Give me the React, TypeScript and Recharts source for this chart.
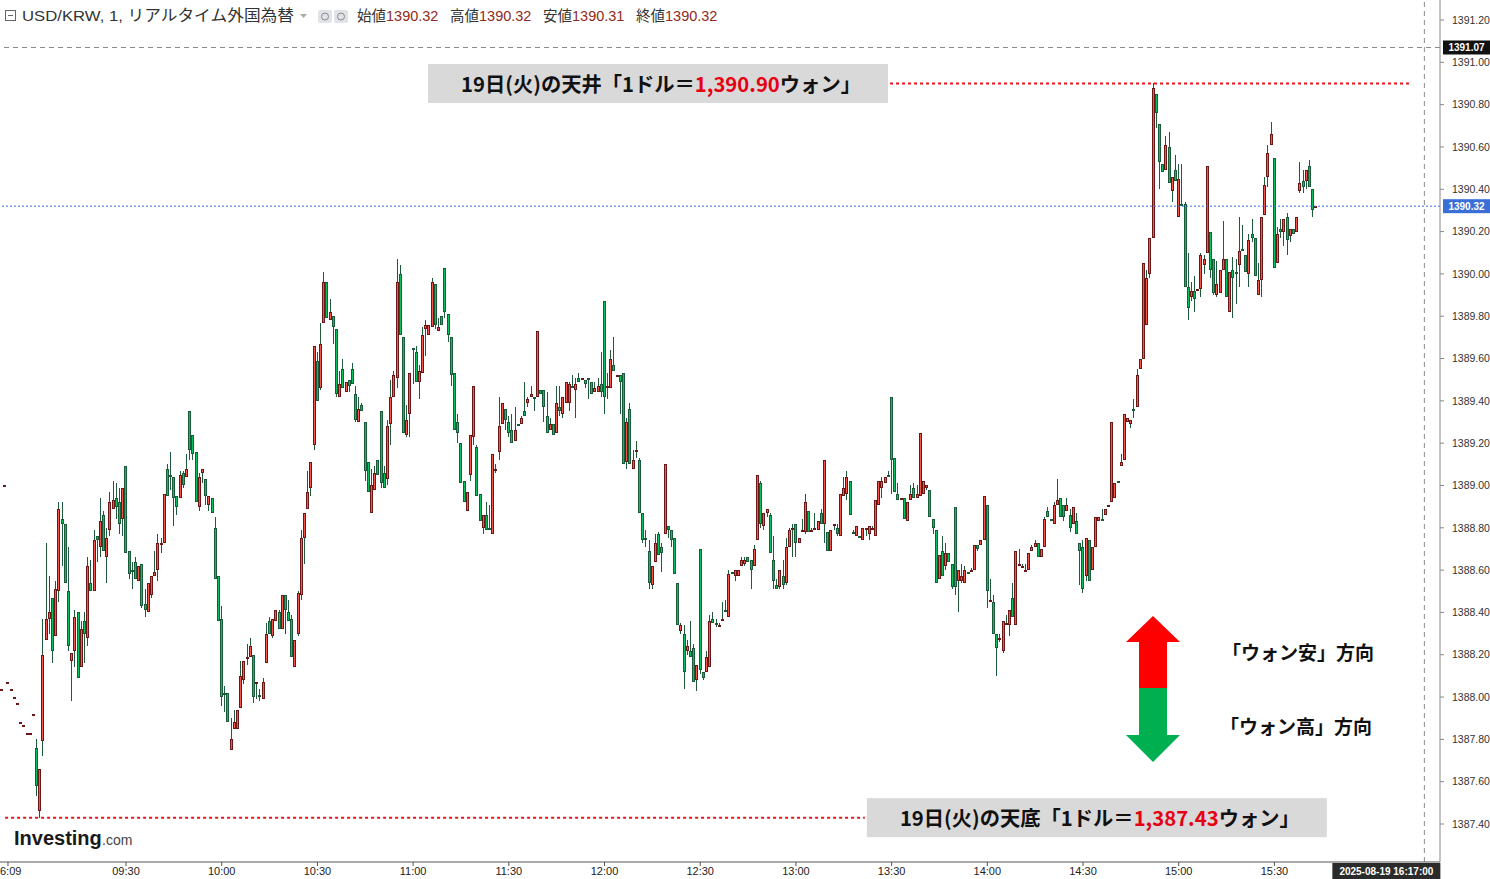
import React from 'react';
import { ComposedChart, Bar, XAxis, YAxis, ReferenceLine } from 'recharts';

// USD/KRW 1-minute candles, minute index from 09:00 (negative = previous session ticks)
const firstMinute = -9;

const open = [
  1388.04, 1389.00, 1388.07, 1388.04, 1388.00, 1387.97, 1387.88, 1387.87, 1387.83, 1387.83,
  1387.92, 1387.76, 1387.46, 1387.79, 1388.27, 1388.37, 1388.47, 1388.29, 1388.50, 1388.84,
  1388.82, 1388.50, 1388.17, 1388.22, 1388.40, 1388.14, 1388.36, 1388.28, 1388.54, 1388.50,
  1388.76, 1388.71, 1388.86, 1388.66, 1388.79, 1388.89, 1388.94, 1388.92, 1388.84, 1389.09,
  1388.69, 1388.60, 1388.64, 1388.55, 1388.63, 1388.44, 1388.40, 1388.48, 1388.57, 1388.60,
  1388.72, 1388.73, 1389.08, 1389.05, 1389.04, 1388.95, 1388.94, 1389.06, 1389.04, 1389.35,
  1389.24, 1389.16, 1388.90, 1389.06, 1389.03, 1388.91, 1388.94, 1388.80, 1388.57, 1388.37,
  1388.02, 1388.02, 1387.75, 1387.85, 1387.85, 1387.95, 1388.08, 1388.18, 1388.19, 1388.20,
  1388.07, 1388.01, 1387.99, 1388.16, 1388.36, 1388.29, 1388.36, 1388.40, 1388.32, 1388.48,
  1388.40, 1388.37, 1388.14, 1388.30, 1388.48, 1388.75, 1388.89, 1388.99, 1389.19, 1389.59,
  1389.46, 1389.77, 1389.96, 1389.78, 1389.80, 1389.74, 1389.42, 1389.55, 1389.44, 1389.50,
  1389.55, 1389.43, 1389.30, 1389.38, 1389.30, 1389.11, 1388.87, 1388.98, 1389.12, 1389.35,
  1389.06, 1389.03, 1389.29, 1389.42, 1389.51, 1390.00, 1389.70, 1389.24, 1389.34, 1389.65,
  1389.63, 1389.49, 1389.53, 1389.74, 1389.71, 1389.75, 1389.95, 1389.73, 1389.80, 1390.03,
  1389.81, 1389.70, 1389.53, 1389.30, 1389.20, 1389.02, 1388.88, 1389.05, 1389.23, 1389.18,
  1388.96, 1388.80, 1388.86, 1388.80, 1388.77, 1389.07, 1389.16, 1389.29, 1389.36, 1389.30,
  1389.26, 1389.21, 1389.29, 1389.29, 1389.35, 1389.39, 1389.42, 1389.42, 1389.42, 1389.45,
  1389.45, 1389.33, 1389.26, 1389.29, 1389.25, 1389.37, 1389.34, 1389.39, 1389.39, 1389.47,
  1389.45, 1389.51, 1389.50, 1389.50, 1389.51, 1389.49, 1389.44, 1389.44, 1389.48, 1389.87,
  1389.46, 1389.46, 1389.57, 1389.52, 1389.52, 1389.53, 1389.11, 1389.36, 1389.08, 1389.16,
  1389.12, 1388.87, 1388.75, 1388.69, 1388.53, 1388.64, 1388.77, 1388.71, 1388.77, 1388.81,
  1388.79, 1388.75, 1388.54, 1388.31, 1388.30, 1388.22, 1388.22, 1388.23, 1388.08, 1388.70,
  1388.12, 1388.12, 1388.14, 1388.37, 1388.35, 1388.33, 1388.36, 1388.41, 1388.38, 1388.59,
  1388.57, 1388.57, 1388.62, 1388.63, 1388.66, 1388.65, 1388.62, 1388.74, 1389.01, 1388.81,
  1388.87, 1388.86, 1388.65, 1388.53, 1388.52, 1388.57, 1388.54, 1388.71, 1388.80, 1388.82,
  1388.73, 1388.79, 1388.78, 1388.88, 1388.79, 1388.80, 1388.79, 1388.87, 1388.82, 1388.78,
  1388.69, 1388.81, 1388.80, 1388.76, 1388.95, 1388.96, 1389.02, 1388.78, 1388.76, 1388.76,
  1388.74, 1388.80, 1388.77, 1388.79, 1388.76, 1388.91, 1388.99, 1389.01, 1389.05, 1389.42,
  1389.13, 1388.96, 1388.94, 1388.94, 1388.83, 1388.93, 1388.99, 1388.94, 1388.95, 1388.96,
  1388.99, 1388.98, 1388.84, 1388.79, 1388.56, 1388.69, 1388.62, 1388.68, 1388.63, 1388.90,
  1388.55, 1388.55, 1388.54, 1388.59, 1388.59, 1388.60, 1388.72, 1388.72, 1388.74, 1388.91,
  1388.46, 1388.45, 1388.30, 1388.27, 1388.22, 1388.35, 1388.34, 1388.47, 1388.34, 1388.62,
  1388.62, 1388.60, 1388.60, 1388.69, 1388.71, 1388.73, 1388.66, 1388.71, 1388.88, 1388.84,
  1388.82, 1388.91, 1388.94, 1388.91, 1388.88, 1388.86, 1388.82, 1388.83, 1388.73, 1388.71,
  1388.57, 1388.74, 1388.60, 1388.71, 1388.83, 1388.84, 1388.86, 1388.90, 1388.92, 1388.94,
  1389.02, 1389.09, 1389.12, 1389.30, 1389.29, 1389.36, 1389.37, 1389.55, 1389.60, 1389.76,
  1390.00, 1390.17, 1390.85, 1390.71, 1390.52, 1390.49, 1390.60, 1390.39, 1390.49, 1390.27,
  1390.33, 1390.33, 1389.94, 1389.89, 1389.92, 1389.92, 1389.93, 1390.04, 1390.10, 1390.20,
  1390.07, 1389.90, 1389.91, 1390.02, 1390.07, 1389.82, 1390.02, 1390.01, 1390.04, 1390.12,
  1390.09, 1390.00, 1390.19, 1390.17, 1389.90, 1389.97, 1390.28, 1390.46, 1390.61, 1390.55,
  1390.05, 1390.21, 1390.20, 1390.27, 1390.18, 1390.21, 1390.20, 1390.39, 1390.44, 1390.44,
  1390.51, 1390.40, 1390.32,
];

const high = [
  1388.04, 1389.00, 1388.07, 1388.04, 1388.00, 1387.97, 1387.88, 1387.87, 1387.83, 1387.83,
  1387.92, 1387.80, 1387.66, 1388.37, 1388.73, 1388.57, 1388.47, 1388.55, 1388.92, 1388.92,
  1388.82, 1388.71, 1388.21, 1388.41, 1388.40, 1388.36, 1388.40, 1388.66, 1388.65, 1388.79,
  1388.76, 1388.94, 1388.88, 1388.80, 1388.97, 1389.02, 1389.01, 1388.99, 1388.99, 1389.09,
  1388.69, 1388.64, 1388.66, 1388.62, 1388.63, 1388.51, 1388.54, 1388.57, 1388.69, 1388.77,
  1388.75, 1388.96, 1389.10, 1389.16, 1389.04, 1388.95, 1389.07, 1389.07, 1389.15, 1389.35,
  1389.24, 1389.16, 1389.06, 1389.08, 1389.03, 1388.95, 1388.94, 1388.85, 1388.57, 1388.43,
  1388.05, 1388.02, 1387.90, 1387.94, 1387.94, 1388.17, 1388.17, 1388.25, 1388.28, 1388.20,
  1388.07, 1388.04, 1388.09, 1388.35, 1388.38, 1388.37, 1388.41, 1388.41, 1388.48, 1388.48,
  1388.46, 1388.39, 1388.27, 1388.50, 1388.79, 1388.87, 1389.07, 1389.11, 1389.66, 1389.63,
  1389.77, 1390.01, 1389.96, 1389.88, 1389.80, 1389.74, 1389.54, 1389.60, 1389.49, 1389.50,
  1389.58, 1389.47, 1389.42, 1389.39, 1389.30, 1389.11, 1389.08, 1389.09, 1389.12, 1389.35,
  1389.09, 1389.31, 1389.50, 1389.54, 1390.07, 1390.04, 1389.70, 1389.38, 1389.53, 1389.65,
  1389.66, 1389.57, 1389.75, 1389.78, 1389.76, 1389.98, 1389.95, 1389.79, 1389.80, 1390.03,
  1389.81, 1389.70, 1389.53, 1389.34, 1389.20, 1389.02, 1388.97, 1389.24, 1389.47, 1389.19,
  1388.96, 1388.86, 1388.92, 1388.91, 1389.15, 1389.10, 1389.42, 1389.39, 1389.36, 1389.33,
  1389.34, 1389.37, 1389.29, 1389.33, 1389.49, 1389.42, 1389.47, 1389.42, 1389.73, 1389.45,
  1389.45, 1389.44, 1389.32, 1389.29, 1389.47, 1389.47, 1389.42, 1389.49, 1389.49, 1389.52,
  1389.51, 1389.53, 1389.51, 1389.50, 1389.51, 1389.49, 1389.49, 1389.51, 1389.63, 1389.87,
  1389.53, 1389.64, 1389.70, 1389.52, 1389.52, 1389.53, 1389.32, 1389.39, 1389.17, 1389.21,
  1389.13, 1388.87, 1388.79, 1388.74, 1388.62, 1388.77, 1388.78, 1388.73, 1389.10, 1388.81,
  1388.79, 1388.75, 1388.54, 1388.35, 1388.34, 1388.27, 1388.36, 1388.25, 1388.15, 1388.70,
  1388.12, 1388.22, 1388.39, 1388.40, 1388.37, 1388.35, 1388.45, 1388.46, 1388.60, 1388.59,
  1388.60, 1388.60, 1388.66, 1388.66, 1388.66, 1388.65, 1388.72, 1389.05, 1389.02, 1388.87,
  1388.89, 1388.87, 1388.76, 1388.56, 1388.60, 1388.65, 1388.75, 1388.80, 1388.82, 1388.82,
  1388.75, 1388.84, 1388.96, 1388.88, 1388.80, 1388.87, 1388.83, 1388.89, 1389.12, 1388.78,
  1388.79, 1388.82, 1388.82, 1388.96, 1389.04, 1389.07, 1389.02, 1388.79, 1388.81, 1388.76,
  1388.80, 1388.80, 1388.81, 1388.81, 1388.93, 1389.02, 1389.04, 1389.04, 1389.07, 1389.42,
  1389.13, 1389.01, 1388.94, 1388.94, 1388.92, 1389.00, 1389.01, 1389.00, 1389.25, 1389.02,
  1389.00, 1388.98, 1388.84, 1388.79, 1388.67, 1388.76, 1388.73, 1388.68, 1388.63, 1388.90,
  1388.60, 1388.63, 1388.62, 1388.59, 1388.61, 1388.72, 1388.72, 1388.74, 1388.95, 1388.91,
  1388.56, 1388.48, 1388.30, 1388.30, 1388.36, 1388.39, 1388.41, 1388.54, 1388.69, 1388.70,
  1388.63, 1388.63, 1388.68, 1388.72, 1388.74, 1388.73, 1388.70, 1388.85, 1388.90, 1388.84,
  1388.92, 1389.03, 1388.94, 1388.91, 1388.94, 1388.89, 1388.90, 1388.87, 1388.73, 1388.74,
  1388.75, 1388.74, 1388.71, 1388.85, 1388.85, 1388.89, 1388.89, 1388.91, 1389.30, 1389.01,
  1389.02, 1389.15, 1389.34, 1389.32, 1389.31, 1389.41, 1389.55, 1389.60, 1390.05, 1390.02,
  1390.17, 1390.90, 1390.85, 1390.71, 1390.52, 1390.65, 1390.67, 1390.46, 1390.56, 1390.52,
  1390.52, 1390.34, 1390.10, 1389.96, 1389.99, 1389.93, 1390.10, 1390.09, 1390.51, 1390.20,
  1390.07, 1390.06, 1390.02, 1390.25, 1390.07, 1390.01, 1390.08, 1390.07, 1390.27, 1390.23,
  1390.09, 1390.19, 1390.26, 1390.17, 1390.05, 1390.27, 1390.46, 1390.61, 1390.72, 1390.55,
  1390.22, 1390.26, 1390.26, 1390.29, 1390.21, 1390.21, 1390.27, 1390.53, 1390.49, 1390.49,
  1390.54, 1390.40, 1390.32,
];

const low = [
  1388.04, 1389.00, 1388.07, 1388.04, 1388.00, 1387.97, 1387.88, 1387.87, 1387.83, 1387.83,
  1387.92, 1387.53, 1387.43, 1387.72, 1388.27, 1388.30, 1388.16, 1388.29, 1388.45, 1388.62,
  1388.54, 1388.22, 1387.98, 1388.14, 1388.09, 1388.14, 1388.16, 1388.24, 1388.50, 1388.50,
  1388.64, 1388.66, 1388.69, 1388.54, 1388.76, 1388.89, 1388.84, 1388.77, 1388.76, 1388.68,
  1388.56, 1388.51, 1388.56, 1388.55, 1388.42, 1388.38, 1388.40, 1388.47, 1388.57, 1388.55,
  1388.68, 1388.73, 1388.95, 1388.98, 1388.81, 1388.86, 1388.94, 1388.99, 1389.04, 1389.12,
  1389.12, 1388.92, 1388.88, 1389.01, 1388.91, 1388.88, 1388.87, 1388.56, 1388.36, 1387.96,
  1387.93, 1387.88, 1387.75, 1387.85, 1387.85, 1387.95, 1388.06, 1388.15, 1388.19, 1387.97,
  1387.99, 1387.98, 1387.99, 1388.16, 1388.30, 1388.28, 1388.36, 1388.32, 1388.32, 1388.30,
  1388.36, 1388.19, 1388.14, 1388.29, 1388.46, 1388.63, 1388.89, 1388.95, 1389.17, 1389.40,
  1389.45, 1389.77, 1389.79, 1389.78, 1389.67, 1389.42, 1389.42, 1389.46, 1389.44, 1389.44,
  1389.48, 1389.30, 1389.30, 1389.35, 1389.02, 1388.97, 1388.87, 1388.98, 1389.05, 1388.99,
  1388.99, 1389.00, 1389.19, 1389.42, 1389.46, 1389.71, 1389.25, 1389.23, 1389.23, 1389.48,
  1389.49, 1389.41, 1389.53, 1389.61, 1389.71, 1389.75, 1389.74, 1389.73, 1389.76, 1389.79,
  1389.68, 1389.47, 1389.26, 1389.20, 1389.01, 1388.92, 1388.88, 1389.02, 1389.19, 1388.95,
  1388.83, 1388.77, 1388.79, 1388.79, 1388.77, 1389.06, 1389.12, 1389.29, 1389.26, 1389.23,
  1389.20, 1389.21, 1389.28, 1389.29, 1389.33, 1389.37, 1389.42, 1389.35, 1389.42, 1389.43,
  1389.30, 1389.25, 1389.26, 1389.24, 1389.25, 1389.33, 1389.32, 1389.39, 1389.35, 1389.46,
  1389.32, 1389.49, 1389.50, 1389.46, 1389.41, 1389.43, 1389.44, 1389.44, 1389.42, 1389.34,
  1389.41, 1389.46, 1389.54, 1389.52, 1389.34, 1389.10, 1389.08, 1389.10, 1389.08, 1389.13,
  1388.87, 1388.73, 1388.71, 1388.51, 1388.51, 1388.64, 1388.67, 1388.59, 1388.77, 1388.75,
  1388.71, 1388.58, 1388.34, 1388.30, 1388.04, 1388.20, 1388.19, 1388.07, 1388.03, 1388.11,
  1388.08, 1388.12, 1388.14, 1388.35, 1388.33, 1388.33, 1388.36, 1388.40, 1388.38, 1388.58,
  1388.55, 1388.57, 1388.62, 1388.62, 1388.64, 1388.51, 1388.62, 1388.74, 1388.80, 1388.79,
  1388.85, 1388.68, 1388.51, 1388.51, 1388.51, 1388.51, 1388.53, 1388.71, 1388.66, 1388.66,
  1388.73, 1388.79, 1388.77, 1388.78, 1388.78, 1388.80, 1388.79, 1388.82, 1388.73, 1388.69,
  1388.69, 1388.79, 1388.76, 1388.76, 1388.95, 1388.93, 1388.86, 1388.77, 1388.76, 1388.75,
  1388.74, 1388.76, 1388.74, 1388.79, 1388.76, 1388.91, 1388.94, 1389.01, 1389.04, 1388.96,
  1388.97, 1388.93, 1388.94, 1388.84, 1388.83, 1388.93, 1388.94, 1388.94, 1388.95, 1388.96,
  1388.98, 1388.85, 1388.77, 1388.54, 1388.56, 1388.57, 1388.60, 1388.64, 1388.51, 1388.48,
  1388.40, 1388.54, 1388.54, 1388.58, 1388.59, 1388.60, 1388.69, 1388.72, 1388.74, 1388.42,
  1388.46, 1388.30, 1388.10, 1388.26, 1388.21, 1388.35, 1388.29, 1388.38, 1388.34, 1388.62,
  1388.61, 1388.60, 1388.60, 1388.69, 1388.71, 1388.66, 1388.66, 1388.71, 1388.85, 1388.83,
  1388.82, 1388.91, 1388.85, 1388.83, 1388.88, 1388.78, 1388.82, 1388.77, 1388.53, 1388.49,
  1388.55, 1388.55, 1388.60, 1388.71, 1388.83, 1388.83, 1388.86, 1388.90, 1388.92, 1388.94,
  1389.01, 1389.09, 1389.12, 1389.30, 1389.27, 1389.32, 1389.37, 1389.55, 1389.60, 1389.76,
  1389.98, 1390.17, 1390.69, 1390.40, 1390.48, 1390.49, 1390.43, 1390.34, 1390.44, 1390.27,
  1390.32, 1389.94, 1389.78, 1389.87, 1389.82, 1389.92, 1389.89, 1390.00, 1390.10, 1389.98,
  1389.90, 1389.89, 1389.91, 1390.02, 1389.89, 1389.82, 1389.79, 1389.86, 1389.94, 1390.11,
  1390.01, 1389.94, 1390.15, 1389.99, 1389.90, 1389.89, 1390.28, 1390.41, 1390.61, 1390.03,
  1390.05, 1390.17, 1390.13, 1390.09, 1390.15, 1390.19, 1390.20, 1390.38, 1390.38, 1390.40,
  1390.41, 1390.27, 1390.31,
];

const close = [
  1388.04, 1389.00, 1388.07, 1388.04, 1388.00, 1387.97, 1387.88, 1387.87, 1387.83, 1387.83,
  1387.92, 1387.58, 1387.66, 1388.20, 1388.37, 1388.40, 1388.22, 1388.51, 1388.89, 1388.82,
  1388.54, 1388.24, 1388.21, 1388.38, 1388.09, 1388.32, 1388.30, 1388.62, 1388.50, 1388.74,
  1388.74, 1388.83, 1388.69, 1388.75, 1388.92, 1388.93, 1388.90, 1388.82, 1388.99, 1388.68,
  1388.58, 1388.59, 1388.56, 1388.62, 1388.43, 1388.41, 1388.54, 1388.57, 1388.59, 1388.73,
  1388.73, 1388.96, 1388.95, 1389.04, 1388.94, 1388.90, 1389.05, 1389.00, 1389.08, 1389.17,
  1389.15, 1388.92, 1389.04, 1389.08, 1388.95, 1388.95, 1388.87, 1388.56, 1388.36, 1388.00,
  1388.01, 1387.88, 1387.80, 1387.88, 1387.94, 1388.10, 1388.17, 1388.19, 1388.24, 1388.00,
  1388.07, 1388.00, 1388.07, 1388.30, 1388.30, 1388.37, 1388.41, 1388.32, 1388.48, 1388.41,
  1388.36, 1388.19, 1388.27, 1388.49, 1388.75, 1388.87, 1388.97, 1389.11, 1389.66, 1389.40,
  1389.67, 1389.96, 1389.79, 1389.82, 1389.75, 1389.43, 1389.48, 1389.46, 1389.49, 1389.47,
  1389.48, 1389.31, 1389.36, 1389.35, 1389.07, 1388.97, 1389.00, 1389.06, 1389.05, 1389.01,
  1388.99, 1389.28, 1389.42, 1389.52, 1389.96, 1389.71, 1389.25, 1389.31, 1389.53, 1389.64,
  1389.49, 1389.54, 1389.71, 1389.76, 1389.76, 1389.96, 1389.76, 1389.75, 1389.76, 1389.82,
  1389.71, 1389.52, 1389.26, 1389.25, 1389.01, 1388.92, 1388.97, 1389.24, 1389.47, 1388.95,
  1388.83, 1388.86, 1388.79, 1388.79, 1389.15, 1389.08, 1389.28, 1389.39, 1389.31, 1389.25,
  1389.20, 1389.26, 1389.28, 1389.32, 1389.33, 1389.41, 1389.43, 1389.41, 1389.73, 1389.43,
  1389.37, 1389.25, 1389.29, 1389.24, 1389.39, 1389.35, 1389.42, 1389.49, 1389.48, 1389.46,
  1389.48, 1389.49, 1389.51, 1389.48, 1389.50, 1389.43, 1389.46, 1389.47, 1389.44, 1389.42,
  1389.47, 1389.60, 1389.54, 1389.52, 1389.49, 1389.10, 1389.30, 1389.10, 1389.12, 1389.17,
  1388.87, 1388.74, 1388.74, 1388.54, 1388.62, 1388.73, 1388.67, 1388.68, 1389.10, 1388.79,
  1388.74, 1388.58, 1388.34, 1388.34, 1388.12, 1388.24, 1388.19, 1388.07, 1388.15, 1388.13,
  1388.09, 1388.19, 1388.36, 1388.35, 1388.34, 1388.34, 1388.37, 1388.40, 1388.58, 1388.58,
  1388.60, 1388.60, 1388.65, 1388.65, 1388.64, 1388.60, 1388.70, 1389.05, 1388.82, 1388.87,
  1388.89, 1388.68, 1388.55, 1388.51, 1388.60, 1388.53, 1388.71, 1388.79, 1388.80, 1388.73,
  1388.75, 1388.79, 1388.92, 1388.78, 1388.79, 1388.80, 1388.83, 1388.82, 1389.12, 1388.69,
  1388.79, 1388.82, 1388.77, 1388.96, 1388.99, 1389.04, 1388.86, 1388.77, 1388.81, 1388.75,
  1388.80, 1388.80, 1388.81, 1388.80, 1388.93, 1389.02, 1389.02, 1389.04, 1389.04, 1389.12,
  1388.97, 1388.93, 1388.94, 1388.84, 1388.92, 1388.96, 1388.94, 1388.96, 1389.25, 1389.02,
  1389.00, 1388.85, 1388.80, 1388.54, 1388.67, 1388.57, 1388.68, 1388.64, 1388.52, 1388.52,
  1388.60, 1388.57, 1388.60, 1388.58, 1388.60, 1388.72, 1388.70, 1388.74, 1388.95, 1388.50,
  1388.46, 1388.30, 1388.23, 1388.28, 1388.36, 1388.35, 1388.41, 1388.38, 1388.69, 1388.63,
  1388.62, 1388.60, 1388.68, 1388.71, 1388.73, 1388.66, 1388.70, 1388.84, 1388.85, 1388.83,
  1388.91, 1388.93, 1388.85, 1388.85, 1388.91, 1388.80, 1388.90, 1388.77, 1388.69, 1388.51,
  1388.75, 1388.55, 1388.71, 1388.85, 1388.85, 1388.83, 1388.89, 1388.91, 1389.30, 1389.01,
  1389.01, 1389.11, 1389.34, 1389.32, 1389.31, 1389.35, 1389.52, 1389.60, 1390.05, 1389.98,
  1390.17, 1390.88, 1390.76, 1390.53, 1390.48, 1390.61, 1390.43, 1390.46, 1390.44, 1390.45,
  1390.32, 1389.94, 1389.84, 1389.92, 1389.88, 1389.93, 1390.09, 1390.07, 1390.51, 1390.02,
  1389.91, 1389.95, 1390.02, 1390.07, 1389.89, 1390.01, 1389.98, 1390.00, 1390.11, 1390.11,
  1390.01, 1390.16, 1390.17, 1389.99, 1389.97, 1390.27, 1390.42, 1390.57, 1390.66, 1390.03,
  1390.19, 1390.20, 1390.26, 1390.16, 1390.21, 1390.19, 1390.27, 1390.43, 1390.41, 1390.49,
  1390.41, 1390.30, 1390.32,
];

const tickMinutes = [-7, 30, 60, 90, 120, 150, 180, 210, 240, 270, 300, 330, 360, 390];
const tickLabels = ['6:09', '09:30', '10:00', '10:30', '11:00', '11:30', '12:00', '12:30', '13:00', '13:30', '14:00', '14:30', '15:00', '15:30'];
const priceTicks = [
  1387.4, 1387.6, 1387.8, 1388.0, 1388.2, 1388.4, 1388.6, 1388.8, 1389.0, 1389.2,
  1389.4, 1389.6, 1389.8, 1390.0, 1390.2, 1390.4, 1390.6, 1390.8, 1391.0, 1391.2,
];
const lastPrice = 1390.32;
const crossPrice = 1391.07;
const crossMinute = 437;
const crossTime = '2025-08-19 16:17:00';
const headerStats = [
  ['始値', '1390.32'],
  ['高値', '1390.32'],
  ['安値', '1390.31'],
  ['終値', '1390.32'],
];

const data = open.map((o, i) => ({ t: firstMinute + i, o, h: high[i], l: low[i], c: close[i] }));
const dayHigh = Math.max(...high);
const dayLow = Math.min(...low);
const fmt = (v: number) => v.toLocaleString('en-US', { minimumFractionDigits: 2, maximumFractionDigits: 2 });

const UP_FILL = '#f2564d';
const UP_EDGE = '#6d1616';
const DN_FILL = '#03c25f';
const DN_EDGE = '#175c38';
const WICK = '#1e5a3b';
const SANS = "'Liberation Sans', Arial, 'Noto Sans CJK JP', sans-serif";
const JP = "'Noto Sans CJK JP', sans-serif";

const Candle = (props: any) => {
  const { x, y, width, height, payload } = props;
  if (!payload || x == null || y == null) return null;
  const { o, h, l, c } = payload;
  const hi = Math.max(h, o, c);
  const lo = Math.min(l, o, c);
  const top = Math.min(y, y + (height || 0));
  const span = Math.abs(height || 0);
  const py = (p: number) => (hi === lo ? top : top + ((hi - p) / (hi - lo)) * span);
  const col = Math.floor(x + width / 2);
  const yH = Math.round(py(hi));
  const yL = Math.round(py(lo));
  const yT = Math.round(py(Math.max(o, c)));
  const yB = Math.round(py(Math.min(o, c)));
  const up = c > o;
  const flat = c === o;
  const edge = up || flat ? UP_EDGE : DN_EDGE;
  const fill = up ? UP_FILL : DN_FILL;
  return (
    <g>
      {yL - yH >= 1 && <rect x={col} y={yH} width={1} height={yL - yH} fill={WICK} />}
      {yB - yT >= 3 ? (
        <g>
          <rect x={col - 1} y={yT} width={3} height={yB - yT} fill={edge} />
          <rect x={col} y={yT + 1} width={1} height={yB - yT - 2} fill={fill} />
        </g>
      ) : (
        <rect x={col - 1} y={yT} width={3} height={Math.max(2, yB - yT)} fill={edge} />
      )}
    </g>
  );
};

const TimeTick = (props: any) => {
  const { x, y, payload } = props;
  const label = tickLabels[tickMinutes.indexOf(payload.value)] ?? '';
  const first = payload.value === tickMinutes[0];
  return (
    <text x={first ? 0 : x} y={y} dy="0.71em" textAnchor={first ? 'start' : 'middle'} fontSize={11} fill="#222" fontFamily={SANS}>
      {label}
    </text>
  );
};

const AxisTag = (props: any) => {
  const { viewBox, text, bg } = props;
  if (!viewBox) return null;
  const x = viewBox.x + viewBox.width + 3;
  const y = viewBox.y;
  return (
    <g>
      <rect x={x} y={y - 7} width={47} height={14} fill={bg} />
      <text x={x + 23.5} y={y + 3.5} textAnchor="middle" fill="#fff" fontSize={10} fontWeight={700} fontFamily={SANS}>
        {text}
      </text>
    </g>
  );
};

const TimeTag = (props: any) => {
  const { viewBox } = props;
  if (!viewBox) return null;
  const x = viewBox.x - 92;
  const y = viewBox.y + viewBox.height + 1;
  return (
    <g>
      <rect x={x} y={y} width={108} height={16} fill="#2b2b2b" />
      <text x={x + 54} y={y + 11.5} textAnchor="middle" fill="#fff" fontSize={10} fontWeight={700} fontFamily={SANS}>
        {crossTime}
      </text>
    </g>
  );
};

const NoteBox = (props: any) => {
  const { viewBox, side, prefix, value } = props;
  if (!viewBox) return null;
  const w = 460;
  const h = 39;
  const bx = side === 'left' ? viewBox.x - 2 - w : viewBox.x + viewBox.width + 2;
  const by = viewBox.y - h / 2;
  return (
    <g>
      <rect x={bx} y={by} width={w} height={h} fill="#d9d9d9" />
      <text x={bx + w / 2 + 3} y={by + 28} textAnchor="middle" fontSize={20.3} fontWeight={700} fontFamily={JP} fill="#111">
        {prefix}「1ドル＝<tspan fill="#e60012">{fmt(value)}</tspan>ウォン」
      </text>
    </g>
  );
};

const Overlay = () => (
  <svg width={1490} height={879} style={{ position: 'absolute', left: 0, top: 0, pointerEvents: 'none' }}>
    <g fontFamily={SANS}>
      <rect x={5.5} y={10.5} width={10} height={10} fill="none" stroke="#666" />
      <line x1={8} y1={15.5} x2={13} y2={15.5} stroke="#666" />
      <text x={22} y={21} fontSize={15.5} fill="#333" textLength={272} lengthAdjust="spacingAndGlyphs">
        USD/KRW, 1, リアルタイム外国為替
      </text>
      <path d="M300 14 L307 14 L303.5 18 Z" fill="#aaa" />
      <rect x={318} y={10} width={14} height={13} rx={2} fill="#e1e3e8" />
      <circle cx={325} cy={16.5} r={3.5} fill="none" stroke="#888" />
      <rect x={334} y={10} width={14} height={13} rx={2} fill="#e1e3e8" />
      <circle cx={341} cy={16.5} r={3.5} fill="none" stroke="#888" />
      {headerStats.map(([k, v], i) => (
        <text key={k} x={357 + i * 93} y={21} fontSize={14.5} fill="#333">
          {k}
          <tspan fill="#8f2a22">{v}</tspan>
        </text>
      ))}
    </g>
    <g>
      <path d="M1153 616 L1180 642 L1167 642 L1167 688 L1139 688 L1139 642 L1126 642 Z" fill="#ff0000" />
      <path d="M1139 688 L1167 688 L1167 735 L1180 735 L1153 762 L1126 735 L1139 735 Z" fill="#00b050" />
      <text x={1222} y={660} fontSize={19} fontWeight={700} fontFamily={JP} fill="#111">
        「ウォン安」方向
      </text>
      <text x={1220} y={734} fontSize={19} fontWeight={700} fontFamily={JP} fill="#111">
        「ウォン高」方向
      </text>
    </g>
    <g fontFamily={SANS}>
      <text x={14} y={845} fontSize={20} fontWeight={700} fill="#1a1a1a">
        Investing
      </text>
      <text x={102} y={845} fontSize={14} fill="#444">
        .com
      </text>
    </g>
  </svg>
);

const App = () => {
  return (
    <div style={{ position: 'relative', width: 1490, height: 879, background: '#fff' }}>
      <style>{'body{margin:0;background:#fff;}'}</style>
      <ComposedChart width={1490} height={879} data={data} margin={{ top: 0, right: 0, bottom: 0, left: 0 }}>
        <XAxis
          dataKey="t"
          type="number"
          domain={[-9.5, 441.9]}
          allowDataOverflow
          ticks={tickMinutes}
          interval={0}
          height={17}
          tickSize={4}
          tickMargin={1}
          stroke="#555"
          tick={<TimeTick />}
        />
        <YAxis
          orientation="right"
          type="number"
          domain={[1387.2204, 1391.2945]}
          allowDataOverflow
          ticks={priceTicks}
          interval={0}
          tickFormatter={(v: number) => v.toFixed(2)}
          width={50}
          tickSize={4}
          tickMargin={8}
          stroke="#888"
          tick={{ fontSize: 10.5, fill: '#333', fontFamily: SANS }}
        />
        <Bar
          dataKey={(d: any) => [Math.min(d.l, d.o, d.c), Math.max(d.h, d.o, d.c)]}
          barSize={3}
          shape={(p: any) => <Candle {...p} />}
          isAnimationActive={false}
        />
        <ReferenceLine y={lastPrice} stroke="#3b6fd8" strokeDasharray="2 2" label={<AxisTag text={lastPrice.toFixed(2)} bg="#3b6fd8" />} />
        <ReferenceLine y={crossPrice} stroke="#8a8a8a" strokeDasharray="5 4" label={<AxisTag text={crossPrice.toFixed(2)} bg="#111" />} />
        <ReferenceLine x={crossMinute} stroke="#8a8a8a" strokeDasharray="5 4" label={<TimeTag />} />
        <ReferenceLine
          segment={[{ x: 269.5, y: dayHigh }, { x: 432.5, y: dayHigh }]}
          stroke="#e8141b"
          strokeWidth={2}
          strokeDasharray="3 3"
          label={<NoteBox side="left" prefix="19日(火)の天井" value={dayHigh} />}
        />
        <ReferenceLine
          segment={[{ x: -7.9, y: dayLow }, { x: 261.6, y: dayLow }]}
          stroke="#e8141b"
          strokeWidth={2}
          strokeDasharray="3 3"
          label={<NoteBox side="right" prefix="19日(火)の天底" value={dayLow} />}
        />
      </ComposedChart>
      <Overlay />
    </div>
  );
};

export default App;
